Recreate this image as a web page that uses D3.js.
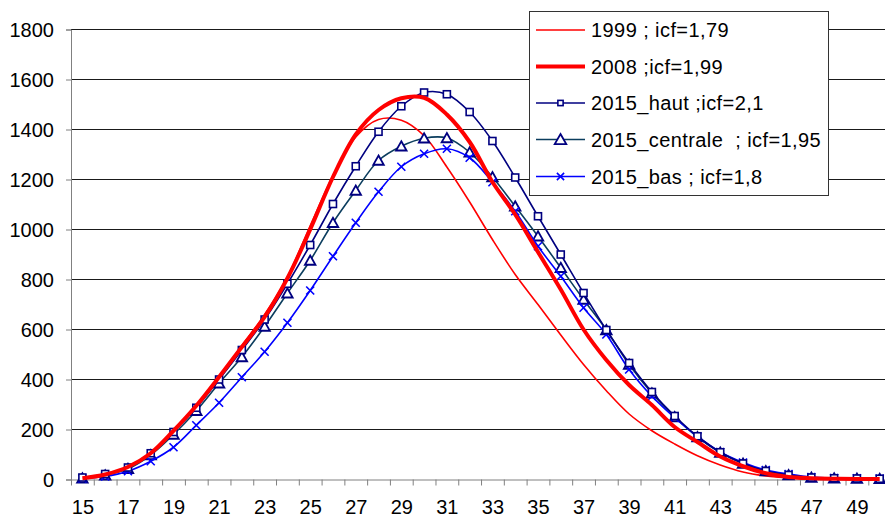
<!DOCTYPE html>
<html>
<head>
<meta charset="utf-8">
<script src="https://cdn.jsdelivr.net/npm/d3@7/dist/d3.min.js"></script>
<style>
  html, body { margin: 0; padding: 0; background: #fff; }
  svg { display: block; font-family: "Liberation Sans", Arial, sans-serif; }
  .leg { white-space: pre; }
</style>
</head>
<body>
<svg id="chart" width="885" height="518"></svg>
<script>
// ---- data ----
const ages = d3.range(15, 51);
const labelAges = [15,17,19,21,23,25,27,29,31,33,35,37,39,41,43,45,47,49];
const yTicks = [0,200,400,600,800,1000,1200,1400,1600,1800];

const s1999 = [4,18,48,103,192,293,410,535,660,810,1015,1215,1370,1440,1437,1375,1250,1110,960,820,700,578,460,355,262,195,142,95,58,30,14,6,3,2,1,1];
const s2008 = [5,20,50,105,195,295,410,530,650,805,1000,1210,1380,1478,1525,1527,1460,1350,1190,1060,910,760,600,478,378,298,210,150,92,53,25,10,5,3,2,2];
const sHaut = [8,22,48,105,190,287,400,518,640,783,938,1102,1253,1391,1493,1548,1541,1470,1354,1208,1053,900,746,598,466,350,254,173,109,64,34,18,8,5,4,3];
const sCentrale = [5,17,43,98,180,275,385,490,612,745,876,1027,1156,1276,1333,1365,1366,1309,1210,1093,973,847,720,598,460,345,250,170,108,64,34,18,8,5,4,3];
const sBas = [4,12,33,73,129,217,307,409,511,627,756,893,1027,1151,1251,1303,1323,1287,1189,1073,933,813,687,580,440,333,247,172,110,68,38,22,10,6,5,4];

const legendLabels = ["1999 ; icf=1,79", "2008 ;icf=1,99", "2015_haut ;icf=2,1", "2015_centrale  ; icf=1,95", "2015_bas ; icf=1,8"];

const series = [
  {name: legendLabels[0], values: s1999, color: "#FF0000", width: 1.6, marker: null},
  {name: legendLabels[1], values: s2008, color: "#FF0000", width: 4, marker: null},
  {name: legendLabels[2], values: sHaut, color: "#000080", width: 1.6, marker: "square", mcolor: "#000080"},
  {name: legendLabels[3], values: sCentrale, color: "#0B3D5E", width: 1.6, marker: "triangle", mcolor: "#000080"},
  {name: legendLabels[4], values: sBas, color: "#0000FF", width: 1.6, marker: "x", mcolor: "#0000FF"}
];

// ---- layout ----
const svg = d3.select("#chart");
const plotLeft = 71, plotBottom = 479.5, plotTop = 29.5, step = 22.78;
const x = d3.scaleLinear().domain([14.5, 50.5]).range([plotLeft, plotLeft + 36 * step]);
const y = d3.scaleLinear().domain([0, 1800]).range([plotBottom, plotTop]);

// gridlines
svg.append("g").selectAll("line").data(yTicks.filter(d => d > 0)).join("line")
  .attr("x1", plotLeft).attr("x2", x(50.5))
  .attr("y1", d => y(d)).attr("y2", d => y(d))
  .attr("stroke", "#1a1a1a").attr("stroke-width", 1);

// y axis
const yAxis = svg.append("g").attr("transform", `translate(${plotLeft},0)`)
  .call(d3.axisLeft(y).tickValues(yTicks).tickSize(5).tickPadding(12).tickFormat(d3.format("d")));
yAxis.select(".domain").attr("stroke", "#808080");
yAxis.selectAll(".tick line").attr("stroke", "#808080");
yAxis.selectAll("text").attr("font-size", 20).attr("fill", "#000")
  .attr("font-family", "'Liberation Sans', Arial, sans-serif").attr("dy", "0.35em");

// x axis: tick marks at category boundaries
const xTickAxis = svg.append("g").attr("transform", `translate(0,${plotBottom})`)
  .call(d3.axisBottom(x).tickValues(d3.range(14.5, 51, 1)).tickSize(6).tickSizeOuter(0).tickFormat(""));
xTickAxis.select(".domain").attr("stroke", "#808080");
xTickAxis.selectAll(".tick line").attr("stroke", "#808080");

// x axis labels at category centres
const xLabelAxis = svg.append("g").attr("transform", `translate(0,${plotBottom})`)
  .call(d3.axisBottom(x).tickValues(labelAges).tickSize(0).tickPadding(20).tickFormat(d3.format("d")));
xLabelAxis.select(".domain").remove();
xLabelAxis.selectAll("text").attr("font-size", 20).attr("fill", "#000")
  .attr("font-family", "'Liberation Sans', Arial, sans-serif");

// lines
const line = d3.line().x((d, i) => x(ages[i])).y(d => y(d)).curve(d3.curveCatmullRom.alpha(0.5));

function drawMarker(g, type, cx, cy, color, scale) {
  const s = scale || 1;
  if (type === "square") {
    g.append("rect").attr("x", cx - 3.5 * s).attr("y", cy - 3.5 * s)
      .attr("width", 7 * s).attr("height", 7 * s)
      .attr("fill", "#fff").attr("stroke", color).attr("stroke-width", 1.6);
  } else if (type === "triangle") {
    const h = 5 * s;
    g.append("path").attr("d", `M${cx},${cy - h} L${cx + h * 1.05},${cy + h * 0.85} L${cx - h * 1.05},${cy + h * 0.85} Z`)
      .attr("fill", "#fff").attr("stroke", color).attr("stroke-width", 1.8);
  } else if (type === "x") {
    const h = 4 * s;
    g.append("path").attr("d", `M${cx - h},${cy - h} L${cx + h},${cy + h} M${cx - h},${cy + h} L${cx + h},${cy - h}`)
      .attr("fill", "none").attr("stroke", color).attr("stroke-width", 1.6);
  }
}

const order = [0, 3, 4, 2, 1];
order.forEach(k => {
  const s = series[k];
  const g = svg.append("g");
  g.append("path").datum(s.values).attr("d", line)
    .attr("fill", "none").attr("stroke", s.color).attr("stroke-width", s.width)
    .attr("stroke-linejoin", "round");
  if (s.marker) {
    s.values.forEach((v, i) => drawMarker(g, s.marker, x(ages[i]), y(v), s.mcolor));
  }
});

// legend
const lg = svg.append("g");
lg.append("rect").attr("x", 529.5).attr("y", 11.5).attr("width", 299).attr("height", 184)
  .attr("fill", "#fff").attr("stroke", "#333").attr("stroke-width", 1);
const rowY = [30, 66.5, 103, 139.5, 176.5];
series.forEach((s, i) => {
  const yy = rowY[i];
  lg.append("line").attr("x1", 536).attr("x2", 585).attr("y1", yy).attr("y2", yy)
    .attr("stroke", s.color).attr("stroke-width", s.width);
  if (s.marker) {
    const sc = s.marker === "square" ? 0.75 : (s.marker === "triangle" ? 1.1 : 0.9);
    drawMarker(lg, s.marker, 560.5, yy, s.mcolor, sc);
  }
  lg.append("text").attr("class", "leg").attr("xml:space", "preserve")
    .attr("x", 591).attr("y", yy).attr("dy", "0.35em")
    .attr("font-size", 20).attr("letter-spacing", "0.42px").attr("fill", "#000")
    .text(s.name);
});
</script>
</body>
</html>
